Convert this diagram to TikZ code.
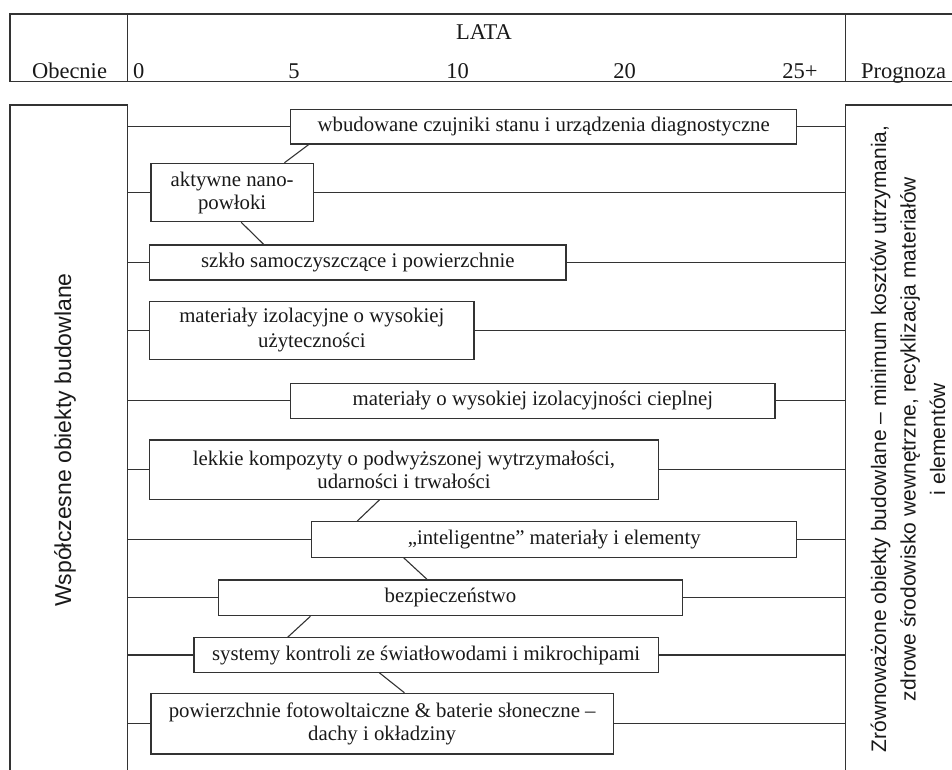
\documentclass[tikz,border=0pt]{standalone}
\usepackage{fontspec}
\setmainfont{Liberation Serif}
\newfontfamily\sansf{Liberation Sans}
\usetikzlibrary{calc}
\begin{document}
\begin{tikzpicture}[x=1pt,y=-1pt,
  ln/.style={draw=black!80, line width=1.1pt},
  bx/.style={draw=black!80, line width=1.1pt, rectangle, inner sep=0pt, align=center, text=black!90,
    font=\fontsize{20.8}{23}\selectfont},
  hd/.style={inner sep=0pt, anchor=base, text=black!90, font=\fontsize{22.5}{26}\selectfont}]
\useasboundingbox (0,0) rectangle (952,769);
\clip (0,0) rectangle (952,769);
% header
\draw[ln] (960,14) -- (10,14) -- (10,81.7) -- (960,81.7);
\draw[ln] (127.7,14) -- (127.7,81.7);
\draw[ln] (845.7,14) -- (845.7,81.7);
\node[hd] (lata) at (484,39) {LATA};
\node[hd] (obe) at (69.5,78) {Obecnie};
\node[hd, anchor=base west] (y0) at (133,78) {0};
\node[hd] (y5) at (294,78) {5};
\node[hd] (y10) at (457.5,78) {10};
\node[hd] (y20) at (624.5,78) {20};
\node[hd] (y25) at (800,78) {25+};
\node[hd] (prog) at (903.7,78) {Prognoza};
% main frames
\draw[ln] (10,790) -- (10,105) -- (127.7,105) -- (127.7,790);
\draw[ln] (960,105) -- (845.7,105) -- (845.7,790);
\coordinate (ls) at (127.7,0);
\coordinate (rs) at (845.7,0);
\node[rotate=90, inner sep=0pt, text=black!90, font=\sansf\fontsize{23}{27}\selectfont] (lt) at (65,440) {Współczesne obiekty budowlane};
\node[rotate=90, inner sep=0pt, align=center, text=black!90, font=\sansf\fontsize{21}{29.5}\selectfont] (rt) at (908,439)
  {Zrównoważone obiekty budowlane – minimum kosztów utrzymania,\\zdrowe środowisko wewnętrzne, recyklizacja materiałów\\i elementów};
% boxes
\node[bx, minimum width=506, minimum height=34.7] (b1) at (543.7,126.65) {wbudowane czujniki stanu i urządzenia diagnostyczne};
\node[bx, minimum width=162.3, minimum height=58.4] (b2) at (232.15,192.5) {aktywne nano-\\powłoki};
\node[bx, minimum width=416.3, minimum height=35] (b3) at (357.85,262.5) {szkło samoczyszczące i powierzchnie};
\node[bx, minimum width=324.3, minimum height=57.6, font=\fontsize{20.8}{25}\selectfont] (b4) at (311.85,330.5) {materiały izolacyjne o wysokiej\\użyteczności};
\node[bx, minimum width=484.3, minimum height=35] (b5) at (532.85,400.8) {materiały o wysokiej izolacyjności cieplnej};
\node[bx, minimum width=508.6, minimum height=59.3] (b6) at (404,469.65) {lekkie kompozyty o podwyższonej wytrzymałości,\\udarności i trwałości};
\node[bx, minimum width=485, minimum height=35.6] (b7) at (554.2,539.5) {„inteligentne” materiały i elementy};
\node[bx, minimum width=463.6, minimum height=35.7] (b8) at (450.5,597.85) {bezpieczeństwo};
\node[bx, minimum width=464.3, minimum height=34.6] (b9) at (426.15,655) {systemy kontroli ze światłowodami i mikrochipami};
\node[bx, minimum width=462.3, minimum height=60.7] (b10) at (382.15,723.65) {powierzchnie fotowoltaiczne \& baterie słoneczne –\\dachy i okładziny};
% horizontal connectors
\foreach \b in {b1,b2,b3,b4,b5,b6,b7,b8,b9,b10} {
  \draw[ln] (ls |- \b.west) -- (\b.west);
  \draw[ln] (\b.east) -- (rs |- \b.east);
}
% diagonal connectors
\draw[ln] ($(b1.south west)+(18.6,0)$) -- ($(b2.north west)+(134,0)$);
\draw[ln] ($(b2.south west)+(90.7,0)$) -- ($(b3.north west)+(114.6,0)$);
\draw[ln] ($(b6.south west)+(230.3,0)$) -- ($(b7.north west)+(46,0)$);
\draw[ln] ($(b7.south west)+(92.6,0)$) -- ($(b8.north west)+(209,0)$);
\draw[ln] ($(b8.south west)+(92.3,0)$) -- ($(b9.north west)+(94.3,0)$);
\draw[ln] ($(b9.south west)+(186,0)$) -- ($(b10.north west)+(254,0)$);
\end{tikzpicture}
\end{document}
